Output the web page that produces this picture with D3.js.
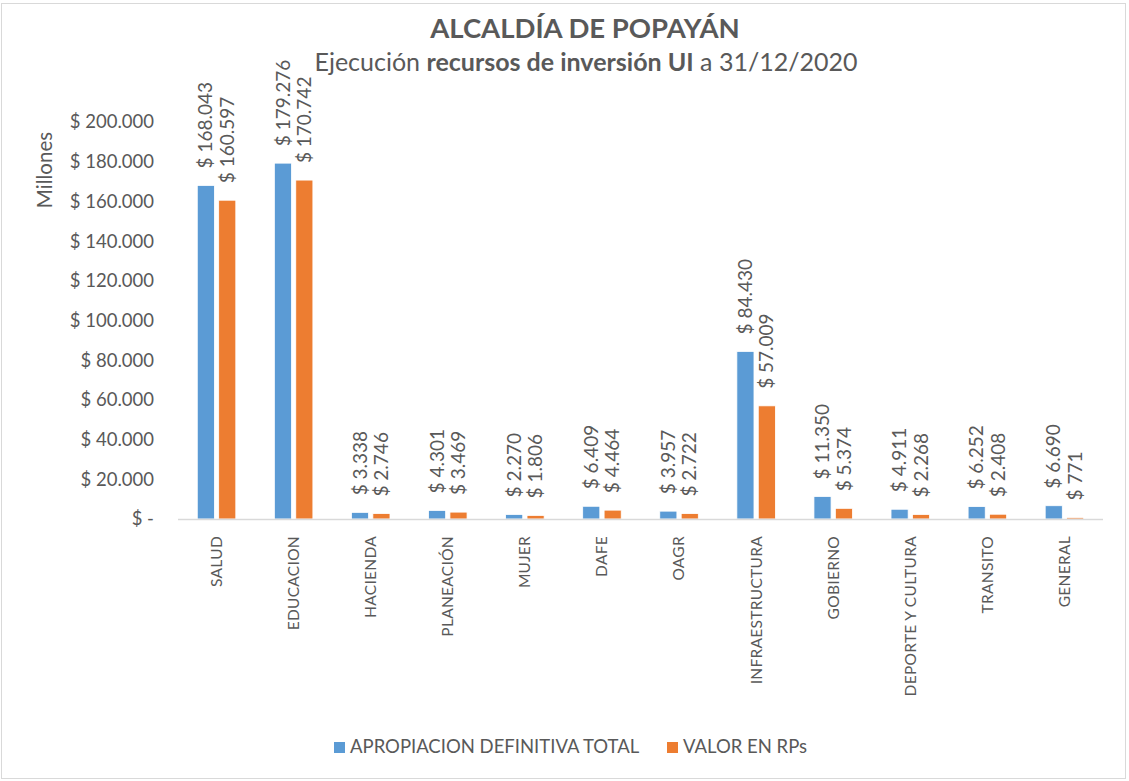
<!DOCTYPE html>
<html lang="es">
<head>
  <meta charset="UTF-8">
  <title>Alcaldía de Popayán</title>
  <script src="https://cdn.jsdelivr.net/npm/d3@7"></script>
  <style>
    body { margin: 0; background: #fff; }
    text { font-family: Lato, "Open Sans", sans-serif; fill: #595959; }
  </style>
</head>
<body>
<script>
  // datos (millones)
  var categorias = ['SALUD', 'EDUCACION', 'HACIENDA', 'PLANEACIÓN', 'MUJER', 'DAFE', 'OAGR',
    'INFRAESTRUCTURA', 'GOBIERNO', 'DEPORTE Y CULTURA', 'TRANSITO', 'GENERAL'];
  var series = ['APROPIACION DEFINITIVA TOTAL', 'VALOR EN RPs'];
  var apropiacion = [168043, 179276, 3338, 4301, 2270, 6409, 3957, 84430, 11350, 4911, 6252, 6690];
  var valorRPs = [160597, 170742, 2746, 3469, 1806, 4464, 2722, 57009, 5374, 2268, 2408, 771];
  var yTicks = [0, 20000, 40000, 60000, 80000, 100000, 120000, 140000, 160000, 180000, 200000];
  var colores = ['#5B9BD5', '#ED7D31'];

  var W = 1129, H = 781;
  var svg = d3.select('body').append('svg').attr('width', W).attr('height', H);

  svg.append('rect')
    .attr('x', 1.5).attr('y', 3.5).attr('width', W - 5).attr('height', H - 6)
    .attr('fill', '#fff').attr('stroke', '#d9d9d9');

  var loc = d3.formatLocale({decimal: ',', thousands: '.', grouping: [3], currency: ['$', '']});
  var fmt = loc.format(',.0f');
  function pesos(v) { return v === 0 ? '$ -' : '$ ' + fmt(v); }

  var x0 = d3.scaleBand().domain(categorias).range([178, 1103]).paddingInner(0.5).paddingOuter(0.25);
  var x1 = d3.scaleBand().domain(series).range([0, x0.bandwidth()]).paddingInner(0.2).paddingOuter(0);
  var y = d3.scaleLinear().domain([0, 200000]).range([519, 122]);

  // titulo
  svg.append('text').attr('x', 585).attr('y', 38).attr('text-anchor', 'middle')
    .style('font-size', '27.5px').style('font-weight', 'bold').text('ALCALDÍA DE POPAYÁN');
  var sub = svg.append('text').attr('x', 586).attr('y', 71).attr('text-anchor', 'middle')
    .style('font-size', '25px');
  sub.append('tspan').text('Ejecución ');
  sub.append('tspan').style('font-weight', 'bold').text('recursos de inversión UI');
  sub.append('tspan').text(' a 31/12/2020');

  // eje y
  var yAxis = svg.append('g').attr('transform', 'translate(154,0)')
    .call(d3.axisLeft(y).tickValues(yTicks).tickSize(0).tickPadding(0).tickFormat(pesos));
  yAxis.select('.domain').remove();
  yAxis.selectAll('text').style('font-size', '18.5px').attr('fill', '#595959');

  svg.append('text').attr('transform', 'translate(45,170) rotate(-90)')
    .attr('text-anchor', 'middle').attr('dy', '0.35em').style('font-size', '20.5px').text('Millones');

  // barras
  var datos = categorias.map(function(c, i) {
    return {cat: c, vals: [apropiacion[i], valorRPs[i]]};
  });
  var grupos = svg.selectAll('g.cat').data(datos).enter().append('g')
    .attr('class', 'cat')
    .attr('transform', function(d) { return 'translate(' + x0(d.cat) + ',0)'; });

  grupos.selectAll('rect').data(function(d) {
    return d.vals.map(function(v, j) { return {s: series[j], v: v, j: j}; });
  }).enter().append('rect')
    .attr('x', function(d) { return x1(d.s); })
    .attr('y', function(d) { return y(d.v); })
    .attr('width', x1.bandwidth())
    .attr('height', function(d) { return y(0) - y(d.v); })
    .attr('fill', function(d) { return colores[d.j]; })
    .attr('stroke', '#fff').attr('stroke-width', 0.8);

  grupos.selectAll('text.lbl').data(function(d) {
    return d.vals.map(function(v, j) { return {s: series[j], v: v, j: j}; });
  }).enter().append('text')
    .attr('class', 'lbl')
    .attr('transform', function(d) {
      return 'translate(' + (x1(d.s) + x1.bandwidth() / 2) + ',' + (y(d.v) - 17) + ') rotate(-90)';
    })
    .attr('dy', '0.35em')
    .style('font-size', '19px')
    .text(function(d) { return pesos(d.v); });

  // eje x
  svg.append('line').attr('x1', 178).attr('x2', 1103).attr('y1', 519.5).attr('y2', 519.5)
    .attr('stroke', '#d9d9d9').attr('stroke-width', 1.5);

  svg.selectAll('text.cat').data(categorias).enter().append('text')
    .attr('class', 'cat')
    .attr('transform', function(d) {
      return 'translate(' + (x0(d) + x0.bandwidth() / 2) + ',536) rotate(-90)';
    })
    .attr('text-anchor', 'end').attr('dy', '0.35em')
    .style('font-size', '15.5px').style('letter-spacing', '0.3px')
    .text(function(d) { return d; });

  // leyenda
  var ley = svg.append('g').attr('transform', 'translate(0,747)');
  var posLey = [334, 667];
  series.forEach(function(s, i) {
    ley.append('rect').attr('x', posLey[i]).attr('y', -5).attr('width', 11).attr('height', 11)
      .attr('fill', colores[i]);
    ley.append('text').attr('x', posLey[i] + 16).attr('dy', '0.35em')
      .style('font-size', '18.5px').text(s);
  });
</script>
</body>
</html>
